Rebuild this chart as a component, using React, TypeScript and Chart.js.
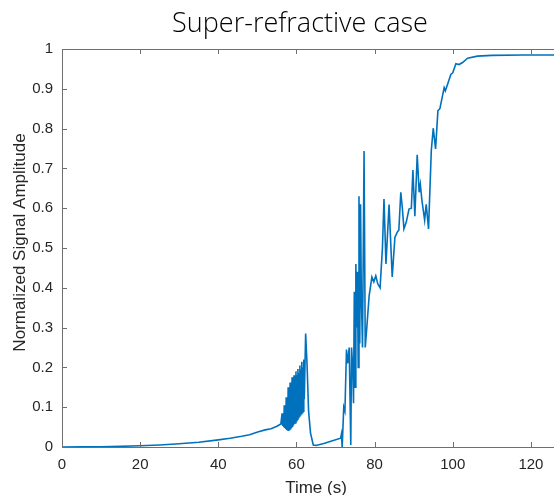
import React, { useEffect, useRef } from "react";
import { Chart, registerables } from "chart.js";

Chart.register(...registerables);

const timeSec: number[] = [
  0, 5, 10, 15, 20, 25, 30, 35, 40, 43, 46, 48, 49.5, 50.5, 52, 53.5, 55,
  56.0, 56.125, 56.25, 56.375, 56.5, 56.625, 56.75, 56.875, 57.0, 57.125, 57.25, 57.375, 57.5, 57.625, 57.75, 57.875,
  58.0, 58.125, 58.25, 58.375, 58.5, 58.625, 58.75, 58.875, 59.0, 59.125, 59.25, 59.375, 59.5, 59.625, 59.75, 59.875,
  60.0, 60.125, 60.25, 60.375, 60.5, 60.625, 60.75, 60.875, 61.0, 61.125, 61.25, 61.375, 61.5, 61.625, 61.75, 61.875,
  62.0, 62.35, 62.7, 63.1, 63.6, 64.3, 65, 67, 69,
  71.3, 71.5, 71.7, 72.1, 72.4, 72.8, 73.1, 73.5, 73.9, 74.1, 74.4, 74.6, 74.8, 75.0, 75.2, 75.4,
  75.6, 75.8, 76.0, 76.2, 76.4, 76.6, 76.9, 77.3, 77.6, 78.0, 78.6, 79.3, 79.8, 80.3, 80.8, 81.4,
  82.0, 82.4, 82.9, 83.7, 84.5, 85.2, 85.8, 86.2, 86.7, 87.1, 87.5, 88.1, 88.8, 89.4, 89.8, 90.3,
  90.9, 91.4, 91.7, 92.1, 92.8, 93.2, 93.8, 94.5, 95.0, 95.6, 96.2, 96.7, 97.8, 98.1, 98.8, 99.5,
  100.0, 100.8, 101.6, 102.5, 103.8, 106.3, 110, 118, 130,
];

const amplitude: number[] = [
  0, 0.0003, 0.0008, 0.0017, 0.003, 0.005, 0.008, 0.012, 0.018, 0.022, 0.027, 0.031, 0.036, 0.039, 0.043, 0.046, 0.052,
  0.058, 0.068, 0.056, 0.085, 0.053, 0.078, 0.05, 0.105, 0.048, 0.097, 0.045, 0.125, 0.043, 0.112, 0.041, 0.15,
  0.04, 0.138, 0.042, 0.162, 0.044, 0.15, 0.047, 0.175, 0.05, 0.165, 0.054, 0.18, 0.058, 0.172, 0.061, 0.19,
  0.066, 0.18, 0.07, 0.196, 0.074, 0.186, 0.078, 0.205, 0.081, 0.195, 0.084, 0.214, 0.087, 0.2, 0.09, 0.22,
  0.12, 0.285, 0.21, 0.09, 0.035, 0.005, 0.004, 0.009, 0.015,
  0.022, 0.032, 0.0, 0.1, 0.09, 0.245, 0.21, 0.25, 0.005, 0.25, 0.2, 0.11, 0.39, 0.15, 0.46, 0.3,
  0.44, 0.2, 0.63, 0.26, 0.61, 0.38, 0.25, 0.744, 0.25, 0.3, 0.38, 0.427, 0.415, 0.43, 0.41, 0.4,
  0.5, 0.623, 0.46, 0.609, 0.427, 0.527, 0.54, 0.545, 0.64, 0.6, 0.548, 0.565, 0.598, 0.6, 0.696, 0.58,
  0.734, 0.64, 0.66, 0.62, 0.57, 0.61, 0.548, 0.744, 0.801, 0.749, 0.845, 0.85, 0.903, 0.895, 0.915, 0.936,
  0.94, 0.963, 0.961, 0.966, 0.977, 0.982, 0.984, 0.985, 0.985,
];

const xTicks: number[] = [0, 20, 40, 60, 80, 100, 120];
const yTicks: number[] = [0, 0.1, 0.2, 0.3, 0.4, 0.5, 0.6, 0.7, 0.8, 0.9, 1];

const titleText = "Super-refractive case";
const xTitleText = "Time (s)";
const yTitleText = "Normalized Signal Amplitude";

const AXIS_COLOR = "#6f6f6f";
const TEXT_COLOR = "#262626";
const LABEL_FONT = "'Liberation Sans', Arial, sans-serif";

const boxPlugin = {
  id: "matlabBox",
  afterDraw(chart: any) {
    const { ctx, chartArea } = chart;
    const { left, right, top, bottom } = chartArea;
    const xs = chart.scales.x;
    const ys = chart.scales.y;
    const len = 5;
    ctx.save();
    ctx.strokeStyle = AXIS_COLOR;
    ctx.lineWidth = 1;
    ctx.beginPath();
    ctx.rect(Math.round(left) + 0.5, Math.round(top) + 0.5, Math.round(right - left), Math.round(bottom - top));
    for (const v of xTicks) {
      const px = Math.round(xs.getPixelForValue(v)) + 0.5;
      ctx.moveTo(px, bottom);
      ctx.lineTo(px, bottom - len);
      ctx.moveTo(px, top);
      ctx.lineTo(px, top + len);
    }
    for (const v of yTicks) {
      const py = Math.round(ys.getPixelForValue(v)) + 0.5;
      ctx.moveTo(left, py);
      ctx.lineTo(left + len, py);
      ctx.moveTo(right, py);
      ctx.lineTo(right - len, py);
    }
    ctx.stroke();

    // chart title
    ctx.fillStyle = "#000000";
    ctx.font = "300 27px 'Open Sans', sans-serif";
    ctx.textAlign = "center";
    ctx.textBaseline = "alphabetic";
    ctx.fillText(titleText, 300, 32);

    // axis titles
    ctx.fillStyle = TEXT_COLOR;
    ctx.font = `17px ${LABEL_FONT}`;
    ctx.textBaseline = "middle";
    ctx.fillText(xTitleText, (left + right) / 2, 488);
    ctx.translate(20, 242.5);
    ctx.rotate(-Math.PI / 2);
    ctx.fillText(yTitleText, 0, 0);
    ctx.restore();
  },
};

export default function App() {
  const canvasRef = useRef<HTMLCanvasElement | null>(null);

  useEffect(() => {
    if (!canvasRef.current) return;
    const points = timeSec.map((t, i) => ({ x: t, y: amplitude[i] }));
    const tickFont = { family: LABEL_FONT, size: 15 };
    const chart = new Chart(canvasRef.current, {
      type: "line",
      data: {
        datasets: [
          {
            data: points,
            borderColor: "#0072BD",
            borderWidth: 1.6,
            pointRadius: 0,
            fill: false,
            tension: 0,
          },
        ],
      },
      options: {
        animation: false,
        responsive: false,
        layout: { padding: { right: 30, left: 0, top: 49, bottom: 0 } },
        plugins: {
          legend: { display: false },
          tooltip: { enabled: false },
          title: { display: false },
        },
        scales: {
          x: {
            type: "linear",
            min: 0,
            max: 130,
            afterBuildTicks: (scale: any) => {
              scale.ticks = xTicks.map((v) => ({ value: v }));
            },
            afterFit: (scale: any) => {
              scale.height = 48;
            },
            ticks: {
              color: TEXT_COLOR,
              font: tickFont,
              padding: 9,
              maxRotation: 0,
              autoSkip: false,
            },
            grid: { display: false, drawTicks: false },
            border: { display: false },
            title: { display: false },
          },
          y: {
            type: "linear",
            min: 0,
            max: 1,
            afterBuildTicks: (scale: any) => {
              scale.ticks = yTicks.map((v) => ({ value: v }));
            },
            afterFit: (scale: any) => {
              scale.width = 62;
            },
            ticks: {
              color: TEXT_COLOR,
              font: tickFont,
              padding: 9,
              autoSkip: false,
              callback: (v: any) => String(Number(Number(v).toFixed(1))),
            },
            grid: { display: false, drawTicks: false },
            border: { display: false },
            title: { display: false },
          },
        },
      },
      plugins: [boxPlugin],
    });
    return () => chart.destroy();
  }, []);

  return (
    <div
      style={{
        position: "fixed",
        left: 0,
        top: 0,
        width: 554,
        height: 495,
        overflow: "hidden",
        background: "#ffffff",
      }}
    >
      <canvas ref={canvasRef} width={600} height={495} style={{ display: "block" }} />
    </div>
  );
}
